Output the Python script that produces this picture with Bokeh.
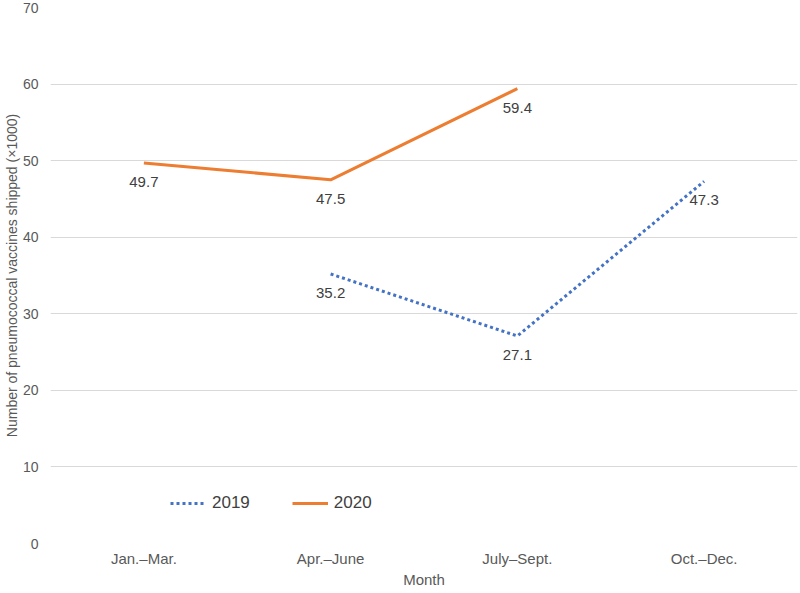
from bokeh.plotting import figure
from bokeh.models import ColumnDataSource, Legend, LegendItem, FixedTicker
from bokeh.core.properties import value
from bokeh.embed import file_html
from bokeh.resources import INLINE

categories = ["Jan.\u2013Mar.", "Apr.\u2013June", "July\u2013Sept.", "Oct.\u2013Dec."]
vals_2019 = [None, 35.2, 27.1, 47.3]
vals_2020 = [49.7, 47.5, 59.4, None]
y_ticks = [0, 10, 20, 30, 40, 50, 60, 70]

FONT = "Liberation Sans"
C2019 = "#4472C4"
C2020 = "#ED7D31"

p = figure(x_range=categories, y_range=(0, 70), width=798, height=590,
           output_backend="svg", toolbar_location=None,
           min_border_left=48, min_border_right=1, min_border_top=7, min_border_bottom=40)
p.outline_line_color = None
p.background_fill_color = "white"

def xy(vals):
    xs = [c for c, v in zip(categories, vals) if v is not None]
    ys = [v for v in vals if v is not None]
    return xs, ys

x19, y19 = xy(vals_2019)
x20, y20 = xy(vals_2020)
s19 = ColumnDataSource(dict(x=x19, y=y19, t=[f"{v:.1f}" for v in y19]))
s20 = ColumnDataSource(dict(x=x20, y=y20, t=[f"{v:.1f}" for v in y20]))

r19 = p.line("x", "y", source=s19, line_color=C2019, line_width=3, line_dash="3 3")
r20 = p.line("x", "y", source=s20, line_color=C2020, line_width=3)

for src in (s19, s20):
    p.text("x", "y", text="t", source=src, y_offset=19,
           text_align="center", text_baseline="middle",
           text_font=value(FONT), text_font_size="15px", text_color="#404040")

p.yaxis.ticker = FixedTicker(ticks=y_ticks)
p.ygrid.grid_line_color = "#D9D9D9"
p.ygrid.grid_line_width = 1
p.xgrid.grid_line_color = None

for ax in (p.xaxis, p.yaxis):
    ax.axis_line_color = None
    ax.major_tick_line_color = None
    ax.minor_tick_line_color = None
    ax.major_tick_out = 0
    ax.major_tick_in = 0
    ax.minor_tick_out = 0
    ax.minor_tick_in = 0
    ax.major_label_text_font = FONT
    ax.major_label_text_color = "#595959"
    ax.axis_label_text_font = FONT
    ax.axis_label_text_color = "#595959"
    ax.axis_label_text_font_style = "normal"

p.yaxis.major_label_text_font_size = "14px"
p.yaxis.axis_label = "Number of pneumococcal vaccines shipped (\u00d71000)"
p.yaxis.axis_label_text_font_size = "14px"
p.yaxis.axis_label_standoff = 0
p.yaxis.major_label_standoff = 12

p.xaxis.major_label_text_font_size = "15px"
p.xaxis.axis_label = "Month"
p.xaxis.axis_label_text_font_size = "15px"
p.xaxis.major_label_standoff = 6
p.xaxis.axis_label_standoff = 1

legend = Legend(items=[LegendItem(label="2019", renderers=[r19]),
                       LegendItem(label="2020", renderers=[r20])],
                location=(120, 30), orientation="horizontal",
                glyph_width=36, glyph_height=20, label_standoff=6, spacing=42,
                padding=0, margin=0,
                border_line_color=None, background_fill_alpha=0,
                label_text_font=FONT, label_text_font_size="17px",
                label_text_color="#404040")
p.add_layout(legend)

open("out.html", "w").write(file_html(p, INLINE))
